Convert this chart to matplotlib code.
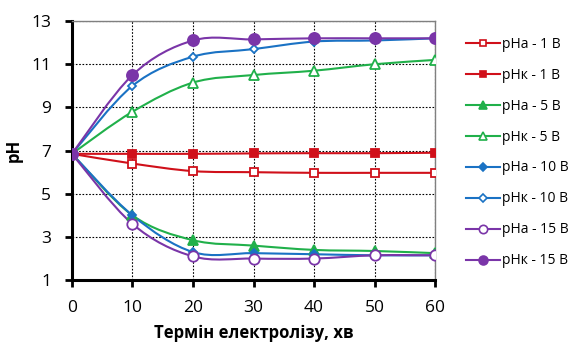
import numpy as np
import matplotlib.pyplot as plt
from matplotlib.path import Path
from matplotlib.patches import PathPatch
from matplotlib.lines import Line2D

plt.rcParams['font.family'] = ['Open Sans', 'DejaVu Sans']

t = [0, 10, 20, 30, 40, 50, 60]
pha_1 = [6.85, 6.4, 6.05, 6.0, 5.97, 5.97, 5.97]
phk_1 = [6.85, 6.85, 6.85, 6.87, 6.88, 6.88, 6.9]
pha_5 = [6.85, 4.0, 2.85, 2.6, 2.4, 2.35, 2.25]
phk_5 = [6.85, 8.8, 10.15, 10.5, 10.7, 11.0, 11.2]
pha_10 = [6.85, 4.0, 2.3, 2.25, 2.2, 2.15, 2.15]
phk_10 = [6.85, 10.0, 11.35, 11.7, 12.05, 12.1, 12.2]
pha_15 = [6.85, 3.6, 2.1, 2.0, 2.0, 2.15, 2.15]
phk_15 = [6.85, 10.5, 12.1, 12.15, 12.2, 12.2, 12.2]

labels = ['pHa - 1 B', 'pHк - 1 B', 'pHa - 5 B', 'pHк - 5 B',
          'pHa - 10 B', 'pHк - 10 B', 'pHa - 15 B', 'pHк - 15 B']
series = [pha_1, phk_1, pha_5, phk_5, pha_10, phk_10, pha_15, phk_15]

red = '#d0101a'
green = '#20b04a'
blue = '#1a72c4'
purple = '#7a35a8'
styles = [
    (red, 's', 'white', 6),
    (red, 's', red, 6),
    (green, '^', green, 6.5),
    (green, '^', 'white', 6.5),
    (blue, 'D', blue, 4.5),
    (blue, 'D', 'white', 4.5),
    (purple, 'o', 'white', 7.5),
    (purple, 'o', purple, 8),
]


def smooth_path(x, y):
    # Catmull-Rom style bezier like Excel's smoothed line
    x = np.asarray(x, float)
    y = np.asarray(y, float)
    n = len(x)
    verts = [(x[0], y[0])]
    codes = [Path.MOVETO]
    for i in range(n - 1):
        i0 = max(i - 1, 0)
        i3 = min(i + 2, n - 1)
        c1 = (x[i] + (x[i + 1] - x[i0]) / 6, y[i] + (y[i + 1] - y[i0]) / 6)
        c2 = (x[i + 1] - (x[i3] - x[i]) / 6, y[i + 1] - (y[i3] - y[i]) / 6)
        verts += [c1, c2, (x[i + 1], y[i + 1])]
        codes += [Path.CURVE4] * 3
    return Path(verts, codes)


fig = plt.figure(figsize=(5.71, 3.45), dpi=100)
ax = fig.add_axes([0.126, 0.188, 0.636, 0.751])

handles = []
for vals, lab, (c, m, fc, ms) in zip(series, labels, styles):
    ax.add_patch(PathPatch(smooth_path(t, vals), fill=False, edgecolor=c, lw=1.5, zorder=3))
    ax.plot(t, vals, linestyle='none', marker=m, ms=ms, mfc=fc, mec=c, mew=1.3, zorder=4)
    handles.append(Line2D([], [], color=c, lw=1.5, marker=m, ms=ms * 0.8, mfc=fc, mec=c, mew=1.2))

ax.set_xlim(0, 60)
ax.set_ylim(1, 13)
ax.set_xticks(t)
ax.set_yticks([1, 3, 5, 7, 9, 11, 13])
ax.grid(True, color='black', linestyle=(0, (1.5, 1.5)), lw=0.8)
ax.tick_params(labelsize=12.5, width=2, length=5, direction='out')
ax.tick_params(axis='x', pad=9)
ax.tick_params(axis='y', pad=10)
for s in ['left', 'bottom']:
    ax.spines[s].set_linewidth(2.2)
for s in ['top', 'right']:
    ax.spines[s].set_color('#808080')
    ax.spines[s].set_linewidth(1)

ax.set_xlabel('Термін електролізу, хв', fontsize=12, fontweight='bold', labelpad=6)
ax.set_ylabel('pH', fontsize=12, fontweight='bold', labelpad=6)

fig.legend(handles, labels, loc='upper left', bbox_to_anchor=(0.807, 0.91),
           frameon=False, fontsize=10, handlelength=2.4, labelspacing=1.15,
           handletextpad=0.15, borderaxespad=0)

fig.savefig('out.png', dpi=100)
